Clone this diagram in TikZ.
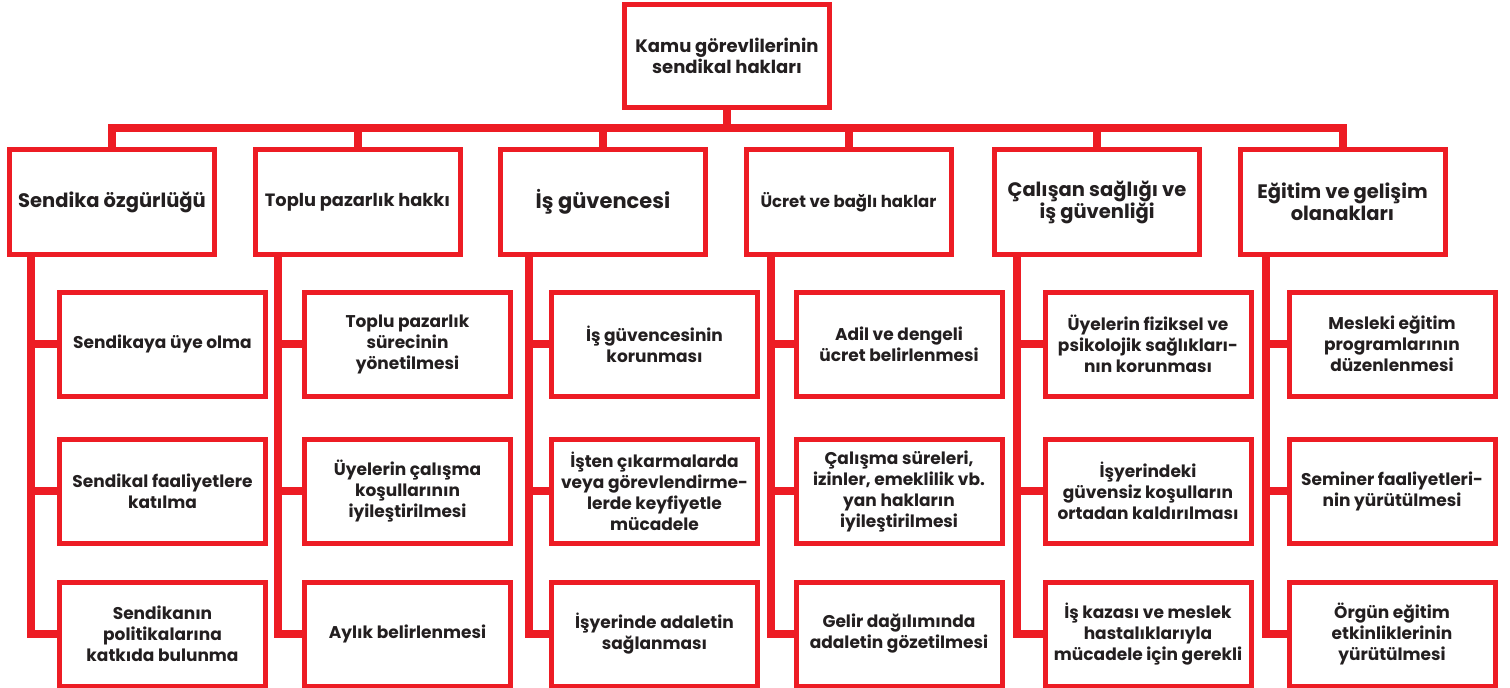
\documentclass[tikz,border=0pt]{standalone}
\usepackage{fontspec}
\setmainfont{Poppins}
\usetikzlibrary{backgrounds}
\definecolor{hred}{HTML}{ED1C24}
\definecolor{htext}{HTML}{231F20}
\newcommand{\fs}[2]{\fontsize{#1}{#2}\selectfont}
\begin{document}
\begin{tikzpicture}[x=1pt,y=-1pt,
  box/.style={draw=hred, line width=5pt, fill=white, text=htext,
    font=\bfseries\fs{17}{21}, align=center, inner sep=0pt,
    minimum width=205pt, minimum height=104pt},
  top/.style={box, minimum height=103pt, font=\bfseries\fs{18}{21}},
  cat/.style={box, minimum height=105pt, font=\bfseries\fs{19.5}{22}},
  leaf/.style={box, minimum width=206pt, minimum height=104pt},
  conn/.style={draw=hred, line width=8pt, line join=miter}]
\useasboundingbox (0,0) rectangle (1510,688);

\node[top] (root) at (727,56) {Kamu görevlilerinin\\sendikal hakları};

\node[cat] (A) at (112,202)   {Sendika özgürlüğü};
\node[cat, font=\bfseries\fs{17.8}{22}] (B) at (357.5,202) {Toplu pazarlık hakkı};
\node[cat, font=\bfseries\fs{21}{22}] (C) at (603,202)   {İş güvencesi};
\node[cat, font=\bfseries\fs{16.5}{22}] (D) at (848.5,202) {Ücret ve bağlı haklar};
\node[cat] (E) at (1097,202)  {Çalışan sağlığı ve\\iş güvenliği};
\node[cat] (F) at (1342.5,202){Eğitim ve gelişim\\olanakları};

\node[leaf] (A1) at (162.5,344) {Sendikaya üye olma};
\node[leaf] (A2) at (162.5,491) {Sendikal faaliyetlere\\katılma};
\node[leaf] (A3) at (162.5,634) {Sendikanın\\politikalarına\\katkıda bulunma};

\node[leaf] (B1) at (407.5,344) {Toplu pazarlık\\sürecinin\\yönetilmesi};
\node[leaf] (B2) at (407.5,491) {Üyelerin çalışma\\koşullarının\\iyileştirilmesi};
\node[leaf] (B3) at (407.5,634) {Aylık belirlenmesi};

\node[leaf] (C1) at (654.5,344) {İş güvencesinin\\korunması};
\node[leaf] (C2) at (654.5,491) {İşten çıkarmalarda\\veya görevlendirme-\\lerde keyfiyetle\\mücadele};
\node[leaf] (C3) at (654.5,634) {İşyerinde adaletin\\sağlanması};

\node[leaf] (D1) at (899,344) {Adil ve dengeli\\ücret belirlenmesi};
\node[leaf] (D2) at (899,491) {Çalışma süreleri,\\izinler, emeklilik vb.\\yan hakların\\iyileştirilmesi};
\node[leaf] (D3) at (899,634) {Gelir dağılımında\\adaletin gözetilmesi};

\node[leaf] (E1) at (1148,344) {Üyelerin fiziksel ve\\psikolojik sağlıkları-\\nın korunması};
\node[leaf] (E2) at (1148,491) {İşyerindeki\\güvensiz koşulların\\ortadan kaldırılması};
\node[leaf] (E3) at (1148,634) {İş kazası ve meslek\\hastalıklarıyla\\mücadele için gerekli};

\node[leaf] (F1) at (1392,344) {Mesleki eğitim\\programlarının\\düzenlenmesi};
\node[leaf] (F2) at (1392,491) {Seminer faaliyetleri-\\nin yürütülmesi};
\node[leaf] (F3) at (1392,634) {Örgün eğitim\\etkinliklerinin\\yürütülmesi};

\coordinate (bus) at (727,128);
\coordinate (sA) at (31,230);
\coordinate (sB) at (277.5,230);
\coordinate (sC) at (529,230);
\coordinate (sD) at (771,230);
\coordinate (sE) at (1017,230);
\coordinate (sF) at (1266,230);

\begin{scope}[on background layer]
  \fill[white] (0,0) rectangle (1510,688);
  \draw[conn] (root.center) -- (root.center |- bus);
  \draw[conn] (A.center) -- (A.center |- bus) -- (F.center |- bus) -- (F.center);
  \foreach \n in {B,C,D,E} { \draw[conn] (\n.center) -- (\n.center |- bus); }
  \foreach \n in {A,B,C,D,E,F} {
    \draw[conn] (s\n) |- (\n3.center);
    \draw[conn] (s\n |- \n1.center) -- (\n1.center);
    \draw[conn] (s\n |- \n2.center) -- (\n2.center);
  }
\end{scope}
\end{tikzpicture}
\end{document}
